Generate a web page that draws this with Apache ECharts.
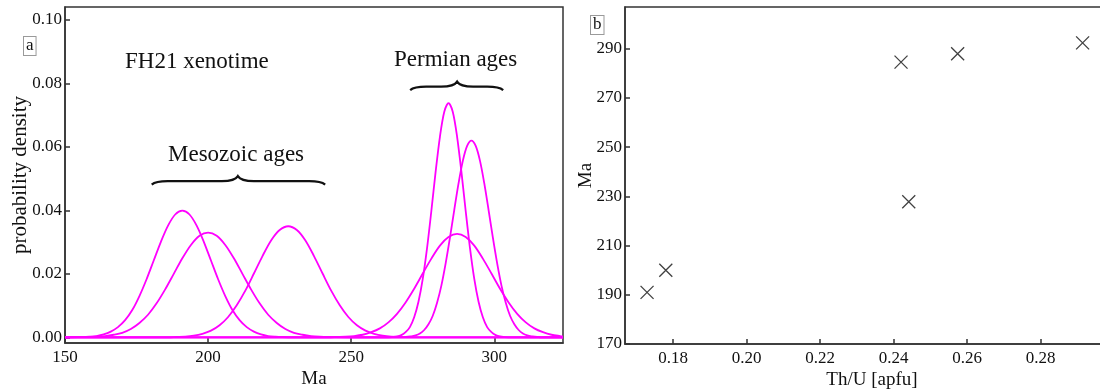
<!DOCTYPE html>
<html><head><meta charset="utf-8">
<script src="https://cdn.jsdelivr.net/npm/echarts@6/dist/echarts.min.js"></script>
<style>html,body{margin:0;padding:0;background:#fff}#c{width:1100px;height:390px}</style>
</head><body><div id="c"></div>
<script>
// ---- Panel a: probability density curves ----
const curve1Ma = [150,156,158.5,161,163.5,166,168.5,171,173.5,176,178.5,181,183.5,186,188.5,191,193.5,196,198.5,201,203.5,206,208.5,211,213.5,216,218.5,221,223.5,226,232,324];
const curve1Density = [0,0.0001,0.0002,0.0004,0.0009,0.0018,0.0032,0.0054,0.0086,0.0130,0.0183,0.0242,0.0301,0.0352,0.0387,0.0399,0.0387,0.0352,0.0301,0.0242,0.0183,0.0130,0.0086,0.0054,0.0032,0.0018,0.0009,0.0004,0.0002,0.0001,0,0];

const curve2Ma = [150,158,161,164,167,170,173,176,179,182,185,188,191,194,197,200,203,206,209,212,215,218,221,224,227,230,233,236,239,242,250,324];
const curve2Density = [0,0.0001,0.0002,0.0004,0.0008,0.0014,0.0026,0.0045,0.0071,0.0107,0.0151,0.0200,0.0249,0.0291,0.0320,0.0330,0.0320,0.0291,0.0249,0.0200,0.0151,0.0107,0.0071,0.0045,0.0026,0.0014,0.0008,0.0004,0.0002,0.0001,0,0];

const curve3Ma = [150,186,189,192,195,198,201,204,207,210,213,216,219,222,225,228,231,234,237,240,243,246,249,252,255,258,261,264,267,270,324];
const curve3Density = [0,0,0.0001,0.0002,0.0005,0.0011,0.0021,0.0038,0.0064,0.0101,0.0147,0.0201,0.0256,0.0305,0.0338,0.0350,0.0338,0.0305,0.0256,0.0201,0.0147,0.0101,0.0064,0.0038,0.0021,0.0011,0.0005,0.0002,0.0001,0,0];

const curve4Ma = [150,242,245,248,251,254,257,260,263,266,269,272,275,278,281,284,287,290,293,296,299,302,305,308,311,314,317,320,323,324];
const curve4Density = [0,0,0.0001,0.0002,0.0004,0.0008,0.0016,0.0028,0.0047,0.0074,0.0110,0.0153,0.0201,0.0248,0.0289,0.0316,0.0326,0.0316,0.0289,0.0248,0.0201,0.0153,0.0110,0.0074,0.0047,0.0028,0.0016,0.0008,0.0004,0.0003];

const curve5Ma = [150,263,266,267.5,269,270.5,272,273.5,275,276.5,278,279.5,281,282.5,284,285.5,287,288.5,290,291.5,293,294.5,296,297.5,299,300.5,302,305,324];
const curve5Density = [0,0,0.0003,0.0007,0.0016,0.0032,0.0063,0.0112,0.0184,0.0281,0.0398,0.0522,0.0632,0.0710,0.0738,0.0710,0.0632,0.0522,0.0398,0.0281,0.0184,0.0112,0.0063,0.0032,0.0016,0.0007,0.0003,0,0];

const curve6Ma = [150,268,271,272.5,274,275.5,277,278.5,280,281.5,283,284.5,286,287.5,289,290.5,292,293.5,295,296.5,298,299.5,301,302.5,304,305.5,307,308.5,310,311.5,313,316,324];
const curve6Density = [0,0,0.0003,0.0006,0.0012,0.0023,0.0041,0.0068,0.0109,0.0163,0.0233,0.0314,0.0401,0.0485,0.0556,0.0603,0.0620,0.0603,0.0556,0.0485,0.0401,0.0314,0.0233,0.0163,0.0109,0.0068,0.0041,0.0023,0.0012,0.0006,0.0003,0,0];

// braces (annotation spans in data units: start Ma, end Ma, tip Ma, density level)
const braceStartMa = [180.3, 270.6];
const braceEndMa = [240.9, 303.1];
const braceTipMa = [210.4, 287.0];
const braceDensity = [0.0492, 0.0790];

const maTicks = [150, 200, 250, 300];
const densityTicks = [0, 0.02, 0.04, 0.06, 0.08, 0.10];

// ---- Panel b: Th/U vs age ----
const thU = [0.1729, 0.1780, 0.2420, 0.2441, 0.2574, 0.2914];
const ageMa = [191.0, 200.0, 284.6, 227.8, 288.0, 292.4];
const thUTicks = [0.18, 0.20, 0.22, 0.24, 0.26, 0.28];
const ageTicks = [170, 190, 210, 230, 250, 270, 290];

const FONT = '"Liberation Serif", "DejaVu Serif", serif';
const AX = '#333';
const TXT = '#111';

const chart = echarts.init(document.getElementById('c'), null, {renderer: 'canvas'});
const pairs = (xs, ys) => xs.map((x, i) => [x, ys[i]]);
const curves = [
  [curve1Ma, curve1Density], [curve2Ma, curve2Density], [curve3Ma, curve3Density],
  [curve4Ma, curve4Density], [curve5Ma, curve5Density], [curve6Ma, curve6Density]
];

const lineSeries = curves.map(([xs, ys]) => ({
  type: 'line', xAxisIndex: 0, yAxisIndex: 0,
  data: pairs(xs, ys), symbol: 'none', showSymbol: false, smooth: 0.3,
  lineStyle: {color: '#ff00ff', width: 1.8}, itemStyle: {color: '#ff00ff'},
  silent: true, z: 3
}));

const braceSeries = {
  type: 'custom', xAxisIndex: 0, yAxisIndex: 0, silent: true, z: 4,
  data: braceStartMa.map((s, i) => [s, braceEndMa[i], braceTipMa[i], braceDensity[i]]),
  renderItem: function (params, api) {
    const p1 = api.coord([api.value(0), api.value(3)]);
    const p2 = api.coord([api.value(1), api.value(3)]);
    const pm = api.coord([api.value(2), api.value(3)]);
    const y = p1[1], x1 = p1[0], x2 = p2[0], xm = pm[0];
    const he = 3.5, ht = 5, r = 16;
    const d = 'M' + x1 + ',' + (y + he) +
      ' Q' + (x1 + 4) + ',' + y + ' ' + (x1 + r) + ',' + y +
      ' L' + (xm - r) + ',' + y +
      ' Q' + (xm - 3) + ',' + y + ' ' + xm + ',' + (y - ht) +
      ' Q' + (xm + 3) + ',' + y + ' ' + (xm + r) + ',' + y +
      ' L' + (x2 - r) + ',' + y +
      ' Q' + (x2 - 4) + ',' + y + ' ' + x2 + ',' + (y + he);
    return {type: 'path', shape: {pathData: d}, style: {stroke: '#111', fill: 'none', lineWidth: 2.2}};
  }
};

const scatterSeries = {
  type: 'scatter', xAxisIndex: 1, yAxisIndex: 1,
  data: pairs(thU, ageMa),
  symbol: 'path://M0,0L10,10M10,0L0,10', symbolSize: 13,
  itemStyle: {color: 'none', borderColor: '#111', borderWidth: 1.3},
  silent: true, z: 3
};

function axisCommon() {
  return {
    axisLine: {show: true, onZero: false, lineStyle: {color: AX, width: 1.5}},
    splitLine: {show: false},
    nameMoveOverlap: false,
    nameTextStyle: {fontFamily: FONT, fontSize: 19, color: TXT},
  };
}
function ticks(vals) {
  return {show: true, inside: true, length: 5, customValues: vals, lineStyle: {color: AX, width: 1.5}};
}

const option = {
  animation: false,
  backgroundColor: '#fff',
  grid: [
    {left: 65, top: 7, width: 498, height: 336, outerBoundsMode: 'none', containLabel: false, show: true, borderColor: AX, borderWidth: 1.5, backgroundColor: 'transparent'},
    {left: 625, top: 7, width: 494, height: 337, outerBoundsMode: 'none', containLabel: false, show: true, borderColor: AX, borderWidth: 1.5, backgroundColor: 'transparent'}
  ],
  xAxis: [
    Object.assign(axisCommon(), {
      type: 'value', gridIndex: 0, min: 150, max: 324,
      name: 'Ma', nameLocation: 'middle', nameGap: 27,
      axisTick: ticks(maTicks),
      axisLabel: {fontFamily: FONT, fontSize: 17, color: TXT, margin: 6, customValues: maTicks}
    }),
    Object.assign(axisCommon(), {
      type: 'value', gridIndex: 1, min: 0.1669, max: 0.3013,
      name: 'Th/U [apfu]', nameLocation: 'middle', nameGap: 27,
      axisTick: ticks(thUTicks),
      axisLabel: {fontFamily: FONT, fontSize: 17, color: TXT, margin: 6, customValues: thUTicks, formatter: v => v.toFixed(2)}
    })
  ],
  yAxis: [
    Object.assign(axisCommon(), {
      type: 'value', gridIndex: 0, min: -0.0018, max: 0.1041,
      name: 'probability density', nameLocation: 'middle', nameGap: 34,
      nameTextStyle: {fontFamily: FONT, fontSize: 21, color: TXT},
      axisTick: ticks(densityTicks),
      axisLabel: {fontFamily: FONT, fontSize: 17, color: TXT, margin: 3, customValues: densityTicks, formatter: v => v.toFixed(2)}
    }),
    Object.assign(axisCommon(), {
      type: 'value', gridIndex: 1, min: 170, max: 307,
      name: 'Ma', nameLocation: 'middle', nameGap: 29,
      axisTick: ticks(ageTicks),
      axisLabel: {fontFamily: FONT, fontSize: 17, color: TXT, margin: 3, customValues: ageTicks}
    })
  ],
  graphic: [
    {type: 'text', left: 23, top: 36, style: {text: 'a', font: '17px ' + FONT, fill: TXT, borderColor: '#9a9a9a', borderWidth: 1, padding: [0, 2, 1, 2], backgroundColor: '#fff'}},
    {type: 'text', left: 590, top: 15, style: {text: 'b', font: '17px ' + FONT, fill: TXT, borderColor: '#9a9a9a', borderWidth: 1, padding: [0, 2, 1, 2], backgroundColor: '#fff'}},
    {type: 'text', x: 125, y: 62, style: {text: 'FH21 xenotime', font: '23px ' + FONT, fill: TXT, verticalAlign: 'middle', align: 'left'}},
    {type: 'text', x: 168, y: 155, style: {text: 'Mesozoic ages', font: '23px ' + FONT, fill: TXT, verticalAlign: 'middle', align: 'left'}},
    {type: 'text', x: 394, y: 60, style: {text: 'Permian ages', font: '23px ' + FONT, fill: TXT, verticalAlign: 'middle', align: 'left'}}
  ],
  series: lineSeries.concat([braceSeries, scatterSeries])
};
chart.setOption(option);
</script>
</body></html>
